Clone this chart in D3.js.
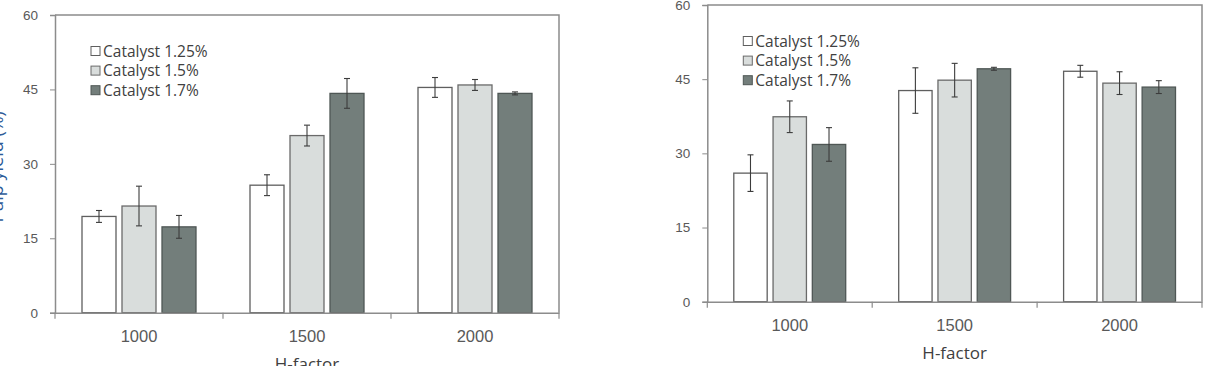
<!DOCTYPE html>
<html>
<head>
<meta charset="utf-8">
<script src="https://cdn.jsdelivr.net/npm/d3@7"></script>
<style>
  html, body { margin: 0; padding: 0; background: #fff; }
  svg { display: block; font-family: 'Open Sans', sans-serif; }
</style>
</head>
<body>
<svg id="chart" width="1212" height="366"></svg>
<script>
// categories / series
const categories = ['1000', '1500', '2000']
const seriesNames = ['Catalyst 1.25%', 'Catalyst 1.5%', 'Catalyst 1.7%']
const yTicks = [0, 15, 30, 45, 60]

// left panel (means and error)
const leftCat125 = [19.4, 25.7, 45.4]
const leftCat15 = [21.5, 35.7, 45.9]
const leftCat17 = [17.3, 44.2, 44.2]
const leftErr125 = [1.2, 2.1, 2.0]
const leftErr15 = [4.0, 2.1, 1.1]
const leftErr17 = [2.3, 3.0, 0.3]

// right panel
const rightCat125 = [26.0, 42.7, 46.6]
const rightCat15 = [37.4, 44.8, 44.2]
const rightCat17 = [31.8, 47.1, 43.4]
const rightErr125 = [3.7, 4.6, 1.2]
const rightErr15 = [3.2, 3.4, 2.3]
const rightErr17 = [3.4, 0.3, 1.3]

const fills = ['#ffffff', '#d9dddc', '#737e7b']
const strokes = ['#5f5f5f', '#6a6a6a', '#4f5755']

const svg = d3.select('#chart')

function build(values, errors) {
  return categories.map((c, i) => ({
    cat: c,
    bars: seriesNames.map((s, j) => ({ name: s, value: values[j][i], err: errors[j][i], idx: j })),
  }))
}

function drawPanel(box, data, yLabel) {
  const w = box.right - box.left
  const h = box.bottom - box.top
  const g = svg.append('g').attr('transform', `translate(${box.left},${box.top})`)

  const x = d3.scaleBand().domain(categories).range([0, w]).padding(0)
  const x1 = d3.scaleBand().domain(seriesNames).range([0, x.bandwidth()])
    .paddingInner(0.15).paddingOuter(0.675)
  const y = d3.scaleLinear().domain([0, 60]).range([h, 0])

  // frame (top + right)
  g.append('path')
    .attr('d', `M0,0H${w}V${h}`)
    .attr('fill', 'none')
    .attr('stroke', '#8c8c8c')
    .attr('stroke-width', 1.5)

  // bars
  const grp = g.selectAll('g.grp').data(data).join('g')
    .attr('transform', (d) => `translate(${x(d.cat)},0)`)

  grp.selectAll('rect').data((d) => d.bars).join('rect')
    .attr('x', (d) => x1(d.name))
    .attr('y', (d) => y(d.value))
    .attr('width', x1.bandwidth())
    .attr('height', (d) => h - y(d.value))
    .attr('fill', (d) => fills[d.idx])
    .attr('stroke', (d) => strokes[d.idx])
    .attr('stroke-width', 1.3)

  // error bars
  const eb = grp.selectAll('g.eb').data((d) => d.bars).join('g')
    .attr('stroke', '#3c3c3c').attr('stroke-width', 1.1)
  eb.append('line')
    .attr('x1', (d) => x1(d.name) + x1.bandwidth() / 2)
    .attr('x2', (d) => x1(d.name) + x1.bandwidth() / 2)
    .attr('y1', (d) => y(d.value + d.err))
    .attr('y2', (d) => y(d.value - d.err))
  ;[1, -1].forEach((s) => {
    eb.append('line')
      .attr('x1', (d) => x1(d.name) + x1.bandwidth() / 2 - 3)
      .attr('x2', (d) => x1(d.name) + x1.bandwidth() / 2 + 3)
      .attr('y1', (d) => y(d.value + s * d.err))
      .attr('y2', (d) => y(d.value + s * d.err))
  })

  // y axis
  const yAxis = d3.axisLeft(y).tickValues(yTicks).tickSize(5).tickPadding(12)
  const ya = g.append('g').call(yAxis)
  ya.select('.domain').attr('stroke', '#8c8c8c').attr('stroke-width', 1.5)
  ya.selectAll('.tick line').attr('stroke', '#8c8c8c')
  ya.selectAll('text').attr('fill', '#595959').style('font-size', '13.5px')

  // x axis: labels centred, ticks at category boundaries
  const xa = g.append('g').attr('transform', `translate(0,${h})`)
    .call(d3.axisBottom(x).tickSize(0).tickPadding(18))
  xa.select('.domain').attr('stroke', '#8c8c8c').attr('stroke-width', 1.5)
  xa.selectAll('text').attr('fill', '#595959').style('font-size', '16.5px')
  const edges = categories.map((c) => x(c)).concat([x.range()[1]])
  xa.selectAll('line.edge').data(edges).join('line')
    .attr('class', 'edge')
    .attr('x1', (d) => d).attr('x2', (d) => d)
    .attr('y1', 0).attr('y2', 6)
    .attr('stroke', '#8c8c8c').attr('stroke-width', 1.2)

  // x title
  g.append('text')
    .attr('x', w / 2).attr('y', h + 57)
    .attr('text-anchor', 'middle')
    .attr('fill', '#404040')
    .style('font-size', '17px')
    .text('H-factor')

  if (yLabel) {
    // mostly outside the frame, as in the cropped source
    g.append('text')
      .attr('transform', `translate(${-box.left + 3},${h / 2 + 3}) rotate(-90)`)
      .attr('text-anchor', 'middle')
      .attr('fill', '#2e5c99')
      .style('font-size', '18px')
      .text(yLabel)
  }

  // legend
  const lg = g.append('g').attr('transform', 'translate(36,36)')
  const li = lg.selectAll('g').data(seriesNames).join('g')
    .attr('transform', (d, i) => `translate(0,${i * 19.6})`)
  li.append('rect')
    .attr('x', 0).attr('y', -4.5).attr('width', 9).attr('height', 9)
    .attr('fill', (d, i) => fills[i])
    .attr('stroke', (d, i) => strokes[i])
    .attr('stroke-width', 1)
  li.append('text')
    .attr('x', 12).attr('y', 5.5)
    .attr('fill', '#404040')
    .style('font-size', '15.5px')
    .text((d) => d)
}

drawPanel(
  { left: 55, right: 559, top: 15, bottom: 312.7 },
  build([leftCat125, leftCat15, leftCat17], [leftErr125, leftErr15, leftErr17]),
  'Pulp yield (%)'
)
drawPanel(
  { left: 707.3, right: 1202, top: 5, bottom: 301.7 },
  build([rightCat125, rightCat15, rightCat17], [rightErr125, rightErr15, rightErr17]),
  null
)
</script>
</body>
</html>
